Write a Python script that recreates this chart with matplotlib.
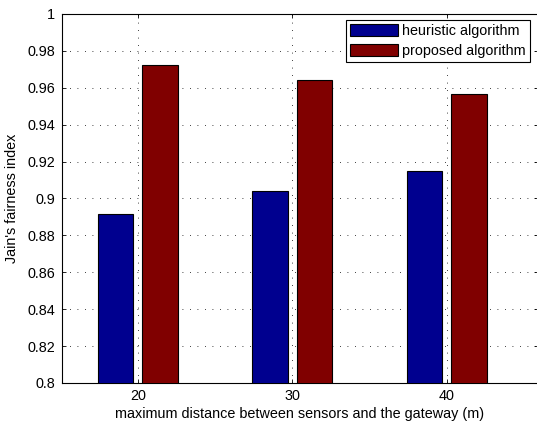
import numpy as np
import matplotlib
matplotlib.use("Agg")
import matplotlib.pyplot as plt

distances = [20, 30, 40]
heuristic = [0.8915, 0.9042, 0.9147]
proposed = [0.9726, 0.9642, 0.9566]
series_names = ["heuristic algorithm", "proposed algorithm"]

plt.rcParams['font.family'] = ['Liberation Sans', 'DejaVu Sans']
plt.rcParams['font.size'] = 10.4

W, H = 537, 426
fig = plt.figure(figsize=(W / 100, H / 100), dpi=100)
ax = fig.add_axes([62 / W, 1 - 383 / H, (538 - 62) / W, (383 - 14) / H])

x = np.array(distances, dtype=float)
bw = 2.3
off = 1.44
ax.bar(x - off, heuristic, bw, color='#00008f', edgecolor='black', linewidth=0.8,
       label=series_names[0], zorder=3)
ax.bar(x + off, proposed, bw, color='#800000', edgecolor='black', linewidth=0.8,
       label=series_names[1], zorder=3)

ax.set_xlim(15.1, 45.9)
ax.set_ylim(0.8, 1.0)
ax.set_xticks(distances)
ax.set_xticklabels([str(d) for d in distances])
yt = np.arange(0.8, 1.0001, 0.02)
ax.set_yticks(yt)
ax.set_yticklabels(['0.8', '0.82', '0.84', '0.86', '0.88', '0.9', '0.92', '0.94',
                    '0.96', '0.98', '1'])
ax.grid(True, linestyle=(0, (1, 8)), color='black', linewidth=0.6, zorder=0)
ax.tick_params(direction='in', length=3, width=0.6, top=True, right=True)
ax.tick_params(axis='x', pad=4.5)
ax.tick_params(axis='y', pad=5)
for s in ax.spines.values():
    s.set_linewidth(0.8)

ax.set_xlabel("maximum distance between sensors and the gateway (m)", labelpad=3)
ax.set_ylabel("Jain's fairness index", labelpad=6)

leg = ax.legend(loc='upper right', bbox_to_anchor=((530 - 62) / (538 - 62), 1 - 6 / 369),
                fancybox=False, framealpha=1, edgecolor='black', borderpad=0.3,
                handlelength=3.3, handleheight=0.9, handletextpad=0.3,
                labelspacing=0.4, borderaxespad=0)
leg.get_frame().set_linewidth(0.8)

fig.savefig("out.png", dpi=100)
